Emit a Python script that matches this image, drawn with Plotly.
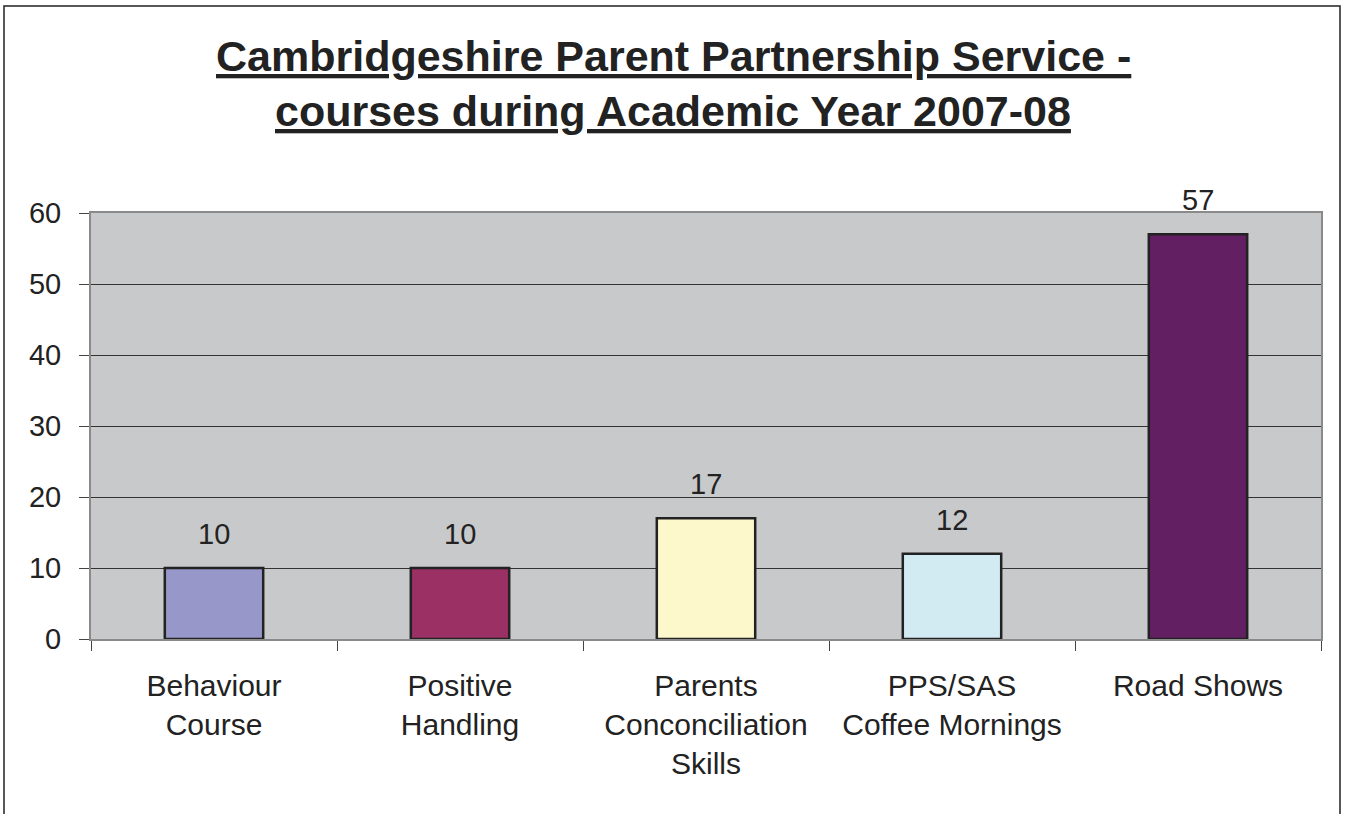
import plotly.graph_objects as go

categories = ["Behaviour<br>Course", "Positive<br>Handling", "Parents<br>Conconciliation<br>Skills",
              "PPS/SAS<br>Coffee Mornings", "Road Shows"]
values = [10, 10, 17, 12, 57]
bar_colors = ["#9797C9", "#9A3064", "#FCF8CC", "#D2EAF2", "#621F61"]
y_ticks = [0, 10, 20, 30, 40, 50, 60]
title_lines = ["Cambridgeshire Parent Partnership Service -", "courses during Academic Year 2007-08"]

FONT = "Liberation Sans, Arial, sans-serif"
W, H = 1346, 814
ML, MR, MT, MB = 91, 25, 213, 175
pw, ph = W - ML - MR, H - MT - MB


def px_x(p):
    return (p - ML) / pw


def px_y(p):
    return (H - MB - p) / ph


fig = go.Figure()
fig.add_trace(go.Bar(
    x=categories, y=values, width=0.4,
    marker=dict(color=bar_colors, line=dict(color="#222222", width=2.5)),
    showlegend=False, hoverinfo="skip",
))

for c, v in zip(categories, values):
    fig.add_annotation(x=c, y=v, text=str(v), showarrow=False, yanchor="bottom", yshift=16,
                       font=dict(family=FONT, size=29, color="#222222"))

# title lines
for line, cy in zip(title_lines, [56, 111]):
    fig.add_annotation(xref="paper", yref="paper", x=px_x(W / 2), y=px_y(cy),
                       xanchor="center", yanchor="middle", showarrow=False,
                       text="<b>" + line + "</b>",
                       font=dict(family=FONT, size=43, color="#222222", lineposition="under"))

# figure border (decorative frame)
fig.add_shape(type="rect", xref="paper", yref="paper",
              x0=px_x(4), x1=px_x(1340), y0=px_y(H + 20), y1=px_y(6),
              line=dict(color="#222222", width=1.5), fillcolor="rgba(0,0,0,0)", layer="below")

fig.update_layout(
    width=W, height=H,
    margin=dict(l=ML, r=MR, t=MT, b=MB),
    paper_bgcolor="white", plot_bgcolor="#C8C9CB",
    font=dict(family=FONT, color="#222222"),
    bargap=0.6,
)
fig.update_xaxes(
    type="category", tickson="boundaries", ticks="outside", ticklen=10, tickcolor="#444444",
    showline=True, linecolor="#8A8A8A", linewidth=2, mirror=True,
    tickfont=dict(family=FONT, size=30, color="#222222"), showgrid=False,
    ticklabelstandoff=19,
)
fig.update_yaxes(
    range=[0, 60], tickvals=y_ticks, ticks="outside", ticklen=10, tickcolor="#444444",
    showline=True, linecolor="#8A8A8A", linewidth=2, mirror=True,
    showgrid=True, gridcolor="#333333", gridwidth=1, zeroline=False,
    tickfont=dict(family=FONT, size=29, color="#222222"), ticklabelstandoff=12,
)

fig.write_html("out.html", config={"displayModeBar": False},
               post_script="document.body.style.margin='0';")
